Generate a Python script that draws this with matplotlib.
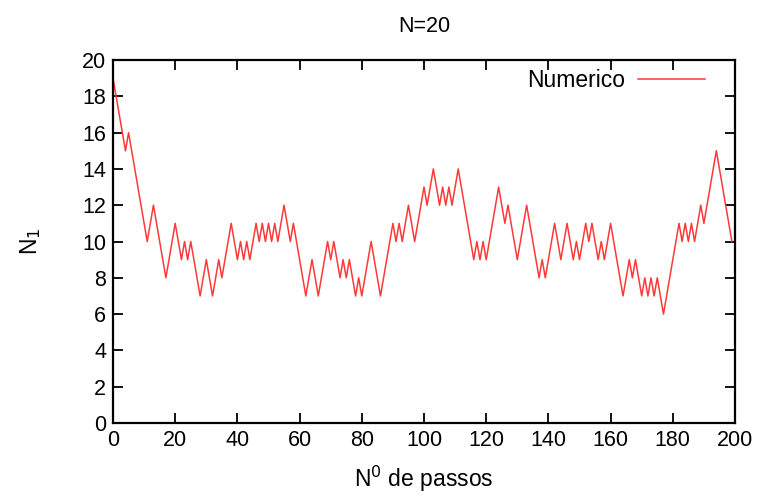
import matplotlib
matplotlib.use('Agg')
import matplotlib.pyplot as plt
import numpy as np

# N1 for each step (Ehrenfest urn, N=20)
passos = list(range(200))
n1 = [19, 18, 17, 16, 15, 16, 15, 14, 13, 12, 11, 10, 11, 12, 11, 10, 9, 8, 9, 10,
      11, 10, 9, 10, 9, 10, 9, 8, 7, 8, 9, 8, 7, 8, 9, 8, 9, 10, 11, 10,
      9, 10, 9, 10, 9, 10, 11, 10, 11, 10, 11, 10, 11, 10, 11, 12, 11, 10, 11, 10,
      9, 8, 7, 8, 9, 8, 7, 8, 9, 10, 9, 10, 9, 8, 9, 8, 9, 8, 7, 8,
      7, 8, 9, 10, 9, 8, 7, 8, 9, 10, 11, 10, 11, 10, 11, 12, 11, 10, 11, 12,
      13, 12, 13, 14, 13, 12, 13, 12, 13, 12, 13, 14, 13, 12, 11, 10, 9, 10, 9, 10,
      9, 10, 11, 12, 13, 12, 11, 12, 11, 10, 9, 10, 11, 12, 11, 10, 9, 8, 9, 8,
      9, 10, 11, 10, 9, 10, 11, 10, 9, 10, 9, 10, 11, 10, 11, 10, 9, 10, 9, 10,
      11, 10, 9, 8, 7, 8, 9, 8, 9, 8, 7, 8, 7, 8, 7, 8, 7, 6, 7, 8,
      9, 10, 11, 10, 11, 10, 11, 10, 11, 12, 11, 12, 13, 14, 15, 14, 13, 12, 11, 10]

xticks = list(range(0, 201, 20))
yticks = list(range(0, 21, 2))

plt.rcParams['font.family'] = ['Liberation Sans', 'DejaVu Sans']

fig = plt.figure(figsize=(7.6, 4.98), dpi=100)
ax = fig.add_axes([0.1487, 0.1506, 0.8184, 0.7289])

ax.plot(passos, n1, color='#ff3838', lw=1.1, label='Numerico')

ax.set_xlim(0, 200)
ax.set_ylim(0, 20)
ax.set_xticks(xticks)
ax.set_yticks(yticks)
ax.tick_params(direction='in', top=True, right=True, length=7, width=1.3,
               labelsize=15.5, pad=5)
for s in ax.spines.values():
    s.set_linewidth(1.6)

ax.set_title('N=20', fontsize=15.5, pad=20)
ax.set_xlabel('N$^0$ de passos', fontsize=16.5, labelpad=9)
ax.set_ylabel('N$_1$', fontsize=16.5, labelpad=28)

leg = ax.legend(loc='upper right', bbox_to_anchor=(0.966, 1.0), frameon=False,
                markerfirst=False, handlelength=2.9, fontsize=16.5,
                borderaxespad=0.0, handletextpad=0.55)

fig.savefig('out.png', dpi=100)
